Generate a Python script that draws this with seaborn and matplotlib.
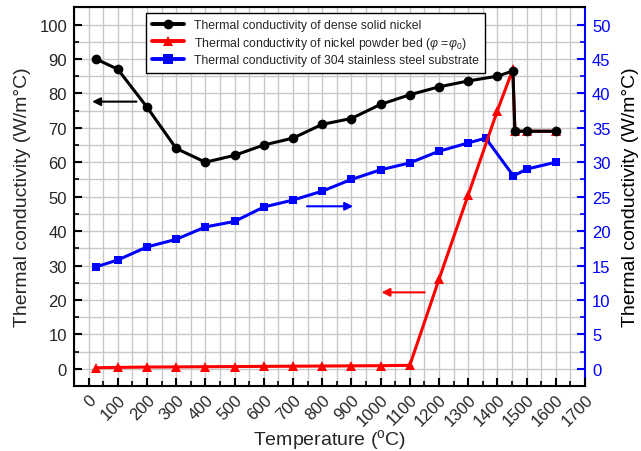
import numpy as np
import pandas as pd
import matplotlib
matplotlib.use("Agg")
import matplotlib.pyplot as plt
from matplotlib.ticker import MultipleLocator
from matplotlib.lines import Line2D
import seaborn as sns

# ---------------- data ----------------
nickel_T = [25, 100, 200, 300, 400, 500, 600, 700, 800, 900, 1000, 1100, 1200, 1300, 1400, 1453, 1460, 1500, 1600]
nickel_k = [90.0, 87.0, 76.0, 64.0, 60.0, 62.0, 65.0, 67.0, 71.0, 72.7, 76.8, 79.6, 81.9, 83.6, 85.0, 86.5, 69.0, 69.0, 69.0]

powder_T = [25, 100, 200, 300, 400, 500, 600, 700, 800, 900, 1000, 1100, 1200, 1300, 1400, 1453, 1460, 1500, 1600]
powder_k = [0.3, 0.4, 0.5, 0.55, 0.6, 0.65, 0.7, 0.75, 0.8, 0.85, 0.9, 1.0, 26.0, 50.5, 75.0, 87.0, 69.0, 69.0, 69.0]

steel_T = [25, 100, 200, 300, 400, 500, 600, 700, 800, 900, 1000, 1100, 1200, 1300, 1360, 1455, 1500, 1600]
steel_k = [14.8, 15.8, 17.7, 18.8, 20.6, 21.4, 23.5, 24.5, 25.8, 27.5, 28.9, 29.9, 31.6, 32.8, 33.5, 28.0, 29.0, 30.0]

x_ticks = list(range(0, 1701, 100))
left_ticks = list(range(0, 101, 10))
right_ticks = list(range(0, 51, 5))

labels = ["Thermal conductivity of dense solid nickel",
          r"Thermal conductivity of nickel powder bed ($\varphi$ =$\varphi_0$)",
          "Thermal conductivity of 304 stainless steel substrate"]

df_ni = pd.DataFrame({"T": nickel_T, "k": nickel_k})
df_pw = pd.DataFrame({"T": powder_T, "k": powder_k})
df_st = pd.DataFrame({"T": steel_T, "k": steel_k})

# ---------------- style ----------------
sns.set_theme(style="white")
plt.rcParams['font.family'] = ['Liberation Sans', 'DejaVu Sans']
plt.rcParams['mathtext.fontset'] = 'custom'
plt.rcParams['mathtext.rm'] = 'Liberation Sans'
plt.rcParams['mathtext.it'] = 'Liberation Sans:italic'
plt.rcParams['mathtext.fallback'] = 'cm'

fig = plt.figure(figsize=(6.41, 4.52), dpi=100)
ax = fig.add_axes([74/641, 1-387/452, (585-74)/641, (387-8.3)/452])
ax2 = ax.twinx()
# ax (left scale) drawn in front, ax2 (right scale, blue) behind with grid
ax.set_zorder(ax2.get_zorder() + 1)
ax.patch.set_visible(False)
ax2.patch.set_visible(True)
ax2.set_facecolor("white")
ax2.xaxis.set_visible(True)

LW = 2.2
sns.lineplot(data=df_st, x="T", y="k", ax=ax2, color="#0000ff", marker="s", markersize=6,
             markeredgewidth=0, linewidth=LW, sort=False, estimator=None, legend=False)
sns.lineplot(data=df_pw, x="T", y="k", ax=ax, color="#ff0000", marker="^", markersize=7.5,
             markeredgewidth=0, linewidth=LW, sort=False, estimator=None, legend=False)
sns.lineplot(data=df_ni, x="T", y="k", ax=ax, color="black", marker="o", markersize=7,
             markeredgewidth=0, linewidth=LW, sort=False, estimator=None, legend=False)

ax.set_xlim(-50, 1700)
ax.set_ylim(-5, 105)
ax2.set_ylim(-2.5, 52.5)

# grid on the background axis
ax2.xaxis.set_major_locator(MultipleLocator(100))
ax2.xaxis.set_minor_locator(MultipleLocator(50))
ax2.yaxis.set_major_locator(MultipleLocator(5))
ax2.yaxis.set_minor_locator(MultipleLocator(2.5))
ax2.grid(True, which="both", color="#c8c8c8", linewidth=1.0)
ax2.set_axisbelow(True)
ax.grid(False)

ax.set_xticks(x_ticks)
ax.set_xticklabels([str(v) for v in x_ticks], rotation=45, ha="right", rotation_mode="anchor", fontsize=12)
ax.xaxis.set_minor_locator(MultipleLocator(50))
ax.set_yticks(left_ticks)
ax.set_yticklabels([str(v) for v in left_ticks], fontsize=12)
ax.yaxis.set_minor_locator(MultipleLocator(5))
ax2.set_yticks(right_ticks)
ax2.set_yticklabels([str(v) for v in right_ticks], fontsize=12, color="#0000ff")
ax2.yaxis.set_minor_locator(MultipleLocator(2.5))
ax2.tick_params(axis="x", which="both", bottom=False, top=False, labelbottom=False, labeltop=False)

ax.tick_params(axis="both", which="major", direction="in", length=6, width=1.5, color="black", pad=5)
ax.tick_params(axis="both", which="minor", direction="in", length=3.5, width=1.2, color="black")
ax.tick_params(axis="x", which="both", top=False, bottom=True, labelbottom=True)
ax.tick_params(axis="y", which="both", left=True, right=False)
ax.tick_params(axis="x", which="major", pad=4)
ax2.tick_params(axis="y", which="major", direction="in", length=6, width=1.5, color="#0000ff", pad=5)
ax2.tick_params(axis="y", which="minor", direction="in", length=3.5, width=1.2, color="#0000ff")

for s in ["left", "bottom", "top"]:
    ax.spines[s].set_visible(True)
    ax.spines[s].set_color("black")
    ax.spines[s].set_linewidth(1.5)
ax.spines["right"].set_visible(False)
for s in ["left", "bottom", "top"]:
    ax2.spines[s].set_visible(False)
ax2.spines["right"].set_visible(True)
ax2.spines["right"].set_color("#0000ff")
ax2.spines["right"].set_linewidth(1.5)

ax.set_xlabel(r"Temperature ($^{\mathrm{o}}$C)", fontsize=14)
ax.xaxis.set_label_coords(0.5, -0.108)
ax.set_ylabel("Thermal conductivity (W/m°C)", fontsize=14, labelpad=6)
ax2.set_ylabel("Thermal conductivity (W/m°C)", fontsize=14, color="black", labelpad=8)
ax2.set_xlabel("")

# direction arrows
arrow_kw = dict(arrowstyle="-|>", lw=1.5, mutation_scale=12, shrinkA=0, shrinkB=0)
ax.annotate("", xy=(12, 77.6), xytext=(164, 77.6), arrowprops=dict(color="black", **arrow_kw))
ax.annotate("", xy=(906, 47.2), xytext=(748, 47.2), arrowprops=dict(color="#0000ff", **arrow_kw))
ax.annotate("", xy=(1003, 22.2), xytext=(1151, 22.2), arrowprops=dict(color="#ff0000", **arrow_kw))

handles = [
    Line2D([], [], color="black", marker="o", markersize=7, markeredgewidth=0, linewidth=LW + 0.6),
    Line2D([], [], color="#ff0000", marker="^", markersize=7.5, markeredgewidth=0, linewidth=LW + 0.6),
    Line2D([], [], color="#0000ff", marker="s", markersize=6.5, markeredgewidth=0, linewidth=LW + 0.6),
]
leg = ax.legend(handles, labels, loc="upper left", bbox_to_anchor=(0.141, 0.985), fontsize=8.8,
                frameon=True, fancybox=False, edgecolor="black", framealpha=1, borderpad=0.5,
                handlelength=2.6, handletextpad=0.8, labelspacing=0.3, borderaxespad=0)
leg.get_frame().set_linewidth(1.0)

fig.savefig("out.png", dpi=100)
